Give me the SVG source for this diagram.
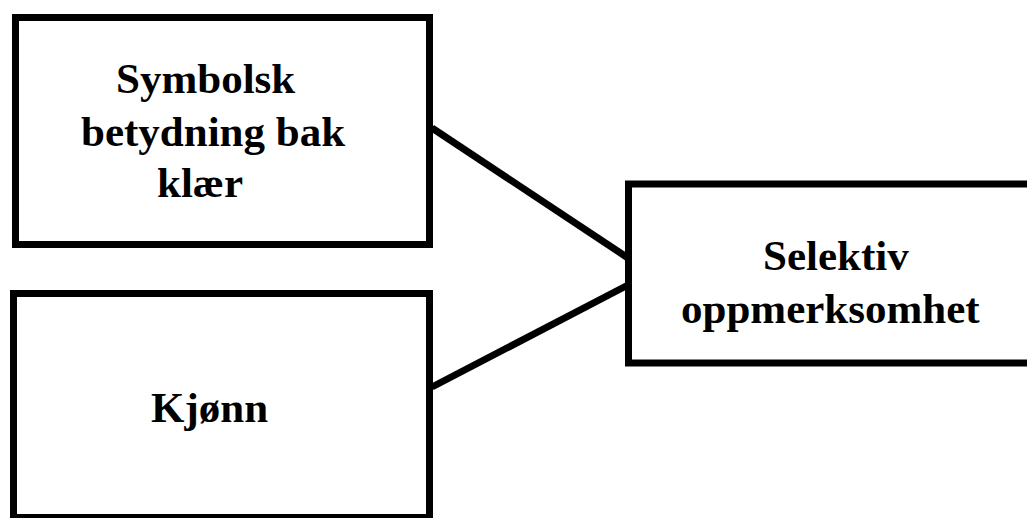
<svg xmlns="http://www.w3.org/2000/svg" width="1027" height="518" viewBox="0 0 1027 518">
<style>
.box{fill:#fff;stroke:#000;stroke-width:7}
.lbl{font-family:"Liberation Serif","Times New Roman",serif;font-weight:bold;font-size:43px;fill:#000}
.conn{stroke:#000;stroke-width:7;fill:none}
</style>
<rect width="1027" height="518" fill="#fff"/>
<g id="connectors">
<line class="conn" x1="432" y1="128" x2="628" y2="258"/>
<line class="conn" x1="432" y1="387" x2="628" y2="285"/>
</g>
<g id="node-symbolsk">
<rect class="box" x="15.5" y="17.5" width="414" height="227"/>
<text class="lbl" x="116" y="93">Symbolsk</text>
<text class="lbl" x="81" y="146">betydning bak</text>
<text class="lbl" x="157" y="197">klær</text>
</g>
<g id="node-kjonn">
<rect class="box" x="13.5" y="293.5" width="416" height="224"/>
<text class="lbl" x="151" y="422">Kjønn</text>
</g>
<g id="node-selektiv">
<rect class="box" x="628.5" y="184" width="410" height="179"/>
<text class="lbl" x="763" y="270">Selektiv</text>
<text class="lbl" x="681" y="323">oppmerksomhet</text>
</g>
</svg>
